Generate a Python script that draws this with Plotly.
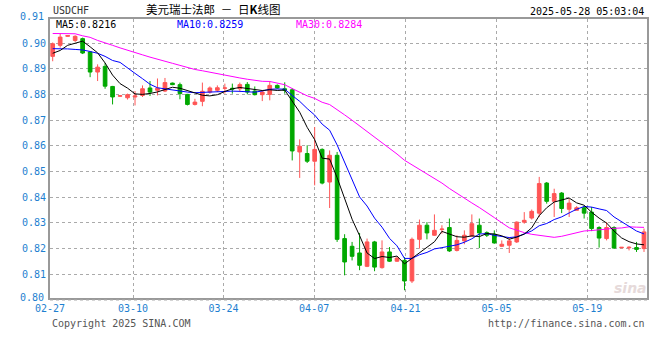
import plotly.graph_objects as go

# ---------------- data ----------------
date_labels = ["02-27", "03-10", "03-24", "04-07", "04-21", "05-05", "05-19"]
date_positions = [-0.35, 10.73, 22.81, 34.93, 47.14, 59.29, 71.41]

opens = [
    0.8948, 0.8991, 0.9026, 0.9010, 0.9017, 0.8965, 0.8887, 0.8909, 0.8831, 0.8793,
    0.8787, 0.8790, 0.8796, 0.8825, 0.8816, 0.8813, 0.8844, 0.8838, 0.8800, 0.8761,
    0.8773, 0.8809, 0.8816, 0.8824, 0.8824, 0.8822, 0.8839, 0.8813, 0.8799, 0.8800,
    0.8835, 0.8822, 0.8818, 0.8576, 0.8570, 0.8540, 0.8586, 0.8459, 0.8563, 0.8239,
    0.8209, 0.8183, 0.8131, 0.8226, 0.8126, 0.8187, 0.8151, 0.8154, 0.8074, 0.8236,
    0.8291, 0.8252, 0.8274, 0.8282, 0.8193, 0.8230, 0.8249, 0.8291, 0.8262, 0.8256,
    0.8209, 0.8213, 0.8226, 0.8303, 0.8319, 0.8338, 0.8455, 0.8384, 0.8416, 0.8353,
    0.8349, 0.8359, 0.8342, 0.8282, 0.8239, 0.8282, 0.8203, 0.8203, 0.8204, 0.8200]

highs = [
    0.9002, 0.9036, 0.9031, 0.9030, 0.9021, 0.8967, 0.8917, 0.8922, 0.8833, 0.8797,
    0.8803, 0.8813, 0.8835, 0.8852, 0.8862, 0.8864, 0.8846, 0.8846, 0.8802, 0.8783,
    0.8846, 0.8831, 0.8835, 0.8842, 0.8842, 0.8846, 0.8848, 0.8831, 0.8816, 0.8852,
    0.8839, 0.8847, 0.8824, 0.8625, 0.8602, 0.8673, 0.8590, 0.8582, 0.8576, 0.8256,
    0.8226, 0.8261, 0.8239, 0.8230, 0.8232, 0.8206, 0.8167, 0.8167, 0.8243, 0.8313,
    0.8303, 0.8333, 0.8291, 0.8317, 0.8252, 0.8271, 0.8333, 0.8317, 0.8267, 0.8271,
    0.8232, 0.8245, 0.8306, 0.8342, 0.8352, 0.8479, 0.8459, 0.8433, 0.8420, 0.8394,
    0.8365, 0.8365, 0.8362, 0.8287, 0.8303, 0.8287, 0.8206, 0.8209, 0.8226, 0.8278]

lows = [
    0.8929, 0.8982, 0.9024, 0.9004, 0.8957, 0.8867, 0.8852, 0.8822, 0.8761, 0.8790,
    0.8780, 0.8757, 0.8790, 0.8794, 0.8796, 0.8809, 0.8836, 0.8781, 0.8757, 0.8757,
    0.8754, 0.8803, 0.8809, 0.8803, 0.8803, 0.8809, 0.8800, 0.8796, 0.8774, 0.8777,
    0.8822, 0.8803, 0.8543, 0.8475, 0.8533, 0.8446, 0.8450, 0.8358, 0.8226, 0.8096,
    0.8154, 0.8116, 0.8128, 0.8112, 0.8122, 0.8148, 0.8148, 0.8038, 0.8066, 0.8200,
    0.8236, 0.8250, 0.8258, 0.8187, 0.8189, 0.8217, 0.8245, 0.8202, 0.8245, 0.8219,
    0.8206, 0.8183, 0.8222, 0.8297, 0.8313, 0.8323, 0.8375, 0.8323, 0.8338, 0.8323,
    0.8349, 0.8317, 0.8268, 0.8204, 0.8232, 0.8200, 0.8202, 0.8193, 0.8187, 0.8187]

closes = [
    0.8997, 0.9023, 0.9029, 0.9026, 0.8961, 0.8887, 0.8906, 0.8832, 0.8790, 0.8795,
    0.8799, 0.8794, 0.8822, 0.8809, 0.8824, 0.8846, 0.8838, 0.8803, 0.8761, 0.8770,
    0.8812, 0.8825, 0.8826, 0.8825, 0.8821, 0.8838, 0.8809, 0.8799, 0.8809, 0.8835,
    0.8825, 0.8816, 0.8580, 0.8598, 0.8540, 0.8586, 0.8455, 0.8563, 0.8236, 0.8148,
    0.8170, 0.8135, 0.8226, 0.8128, 0.8187, 0.8151, 0.8163, 0.8074, 0.8236, 0.8291,
    0.8261, 0.8271, 0.8276, 0.8191, 0.8232, 0.8252, 0.8297, 0.8261, 0.8252, 0.8222,
    0.8217, 0.8230, 0.8303, 0.8310, 0.8345, 0.8453, 0.8384, 0.8414, 0.8356, 0.8377,
    0.8359, 0.8338, 0.8278, 0.8241, 0.8282, 0.8202, 0.8205, 0.8205, 0.8197, 0.8265]

# moving-average values at the start of the window (they depend on earlier closes
# that are not on the chart, so they are read from the lines in the picture)
ma5_head = [0.8960, 0.8971, 0.8991, 0.9000]
ma10_head = [0.8978, 0.8978, 0.8977, 0.8975, 0.8973, 0.8967, 0.8960, 0.8948, 0.8932]
ma30_head = [0.9037, 0.9037, 0.9037, 0.9036, 0.9028, 0.9022, 0.9010, 0.8999, 0.8991,
             0.8981, 0.8971, 0.8964, 0.8954, 0.8945, 0.8936, 0.8929, 0.8921, 0.8913,
             0.8905, 0.8897, 0.8892, 0.8886, 0.8880, 0.8874, 0.8868, 0.8864, 0.8859,
             0.8855, 0.8851]

y_tick_values = [0.81, 0.82, 0.83, 0.84, 0.85, 0.86, 0.87, 0.88, 0.89, 0.90]
ma_labels = ["MA5:0.8216", "MA10:0.8259", "MA30:0.8284"]

# ---------------- build ----------------
x = list(range(len(closes)))


def moving_average(head, n):
    out = list(head)
    for i in range(len(head), len(closes)):
        out.append(sum(closes[i - n + 1:i + 1]) / n)
    return out


ma5 = moving_average(ma5_head, 5)
ma10 = moving_average(ma10_head, 10)
ma30 = moving_average(ma30_head, 30)

RED = "#FF5555"
GREEN = "#00A800"
MONO = "DejaVu Sans Mono"
BLUE_TXT = "#1E7FD0"

fig = go.Figure()
fig.add_trace(go.Candlestick(
    x=x, open=opens, high=highs, low=lows, close=closes,
    increasing=dict(line=dict(color=RED, width=1), fillcolor=RED),
    decreasing=dict(line=dict(color=GREEN, width=1), fillcolor=GREEN),
    whiskerwidth=0, hoverinfo="skip", showlegend=False))
fig.add_trace(go.Scatter(x=x, y=ma30, mode="lines", line=dict(color="#FF00FF", width=1),
                         hoverinfo="skip", showlegend=False))
fig.add_trace(go.Scatter(x=x, y=ma10, mode="lines", line=dict(color="#0000FF", width=1),
                         hoverinfo="skip", showlegend=False))
fig.add_trace(go.Scatter(x=x, y=ma5, mode="lines", line=dict(color="#000000", width=1),
                         hoverinfo="skip", showlegend=False))

annotations = []
# y labels that sit just outside the drawn range (paper coordinates)
for yp, t in [(1.0086, "0.91"), (0.001, "0.80")]:
    annotations.append(dict(xref="paper", yref="paper", x=-0.0067, y=yp, text=t,
                            xanchor="right", yanchor="middle", showarrow=False,
                            font=dict(family=MONO, size=10, color=BLUE_TXT)))
# MA legend texts
for t, xp, c in zip(ma_labels, [0.0065, 0.2087, 0.409], ["#000000", "#0000FF", "#FF00FF"]):
    annotations.append(dict(xref="paper", yref="paper", x=xp, y=0.982, text=t,
                            xanchor="left", yanchor="middle", showarrow=False,
                            font=dict(family=MONO, size=10, color=c)))
annotations += [
    dict(xref="paper", yref="paper", x=0.002, y=1.0305, text="USDCHF", xanchor="left",
         yanchor="middle", showarrow=False, font=dict(family=MONO, size=10, color="#333333")),
    dict(xref="paper", yref="paper", x=0.2726, y=1.0348,
         text="美元瑞士法郎\u2002－\u2002日<b>K</b>线图",
         xanchor="center", yanchor="middle", showarrow=False,
         font=dict(family="Noto Sans CJK SC", size=11.5, color="#000000")),
    dict(xref="paper", yref="paper", x=0.999, y=1.0262, text="2025-05-28 05:03:04",
         xanchor="right", yanchor="middle", showarrow=False,
         font=dict(family=MONO, size=10, color="#000000")),
    dict(xref="paper", yref="paper", x=0.0, y=-0.0907, text="Copyright 2025 SINA.COM",
         xanchor="left", yanchor="middle", showarrow=False,
         font=dict(family=MONO, size=10, color="#555555")),
    dict(xref="paper", yref="paper", x=1.0, y=-0.0907, text="http://finance.sina.com.cn",
         xanchor="right", yanchor="middle", showarrow=False,
         font=dict(family=MONO, size=10, color="#555555")),
    dict(xref="paper", yref="paper", x=0.972, y=0.035, text="<b><i>sina</i></b>",
         xanchor="center", yanchor="middle", showarrow=False,
         font=dict(family="DejaVu Sans", size=14, color="#E6DADA")),
]

fig.update_layout(
    width=660, height=360,
    margin=dict(l=50, r=11, t=19, b=62),
    paper_bgcolor="white", plot_bgcolor="white",
    showlegend=False,
    annotations=annotations,
    shapes=[dict(type="line", xref="paper", yref="paper", x0=0, x1=1.002,
                 y0=-0.0072, y1=-0.0072, line=dict(color="#AAAAAA", width=1, dash="dot"))],
    xaxis=dict(range=[-0.36, 79.4], tickmode="array", tickvals=date_positions,
               ticktext=date_labels, ticks="", showgrid=True, gridcolor="#AAAAAA",
               gridwidth=1, griddash="dot", zeroline=False, showline=True,
               linecolor="#999999", linewidth=2, mirror=True,
               rangeslider=dict(visible=False),
               tickfont=dict(family=MONO, size=10, color=BLUE_TXT)),
    yaxis=dict(range=[0.80078, 0.90934], tickmode="array", tickvals=y_tick_values,
               ticktext=["%.2f" % v for v in y_tick_values], ticks="",
               showgrid=True, gridcolor="#AAAAAA", gridwidth=1, griddash="dot",
               zeroline=False, showline=True, linecolor="#999999", linewidth=2,
               mirror=True, tickfont=dict(family=MONO, size=10, color=BLUE_TXT)),
)

fig.write_html("out.html")
